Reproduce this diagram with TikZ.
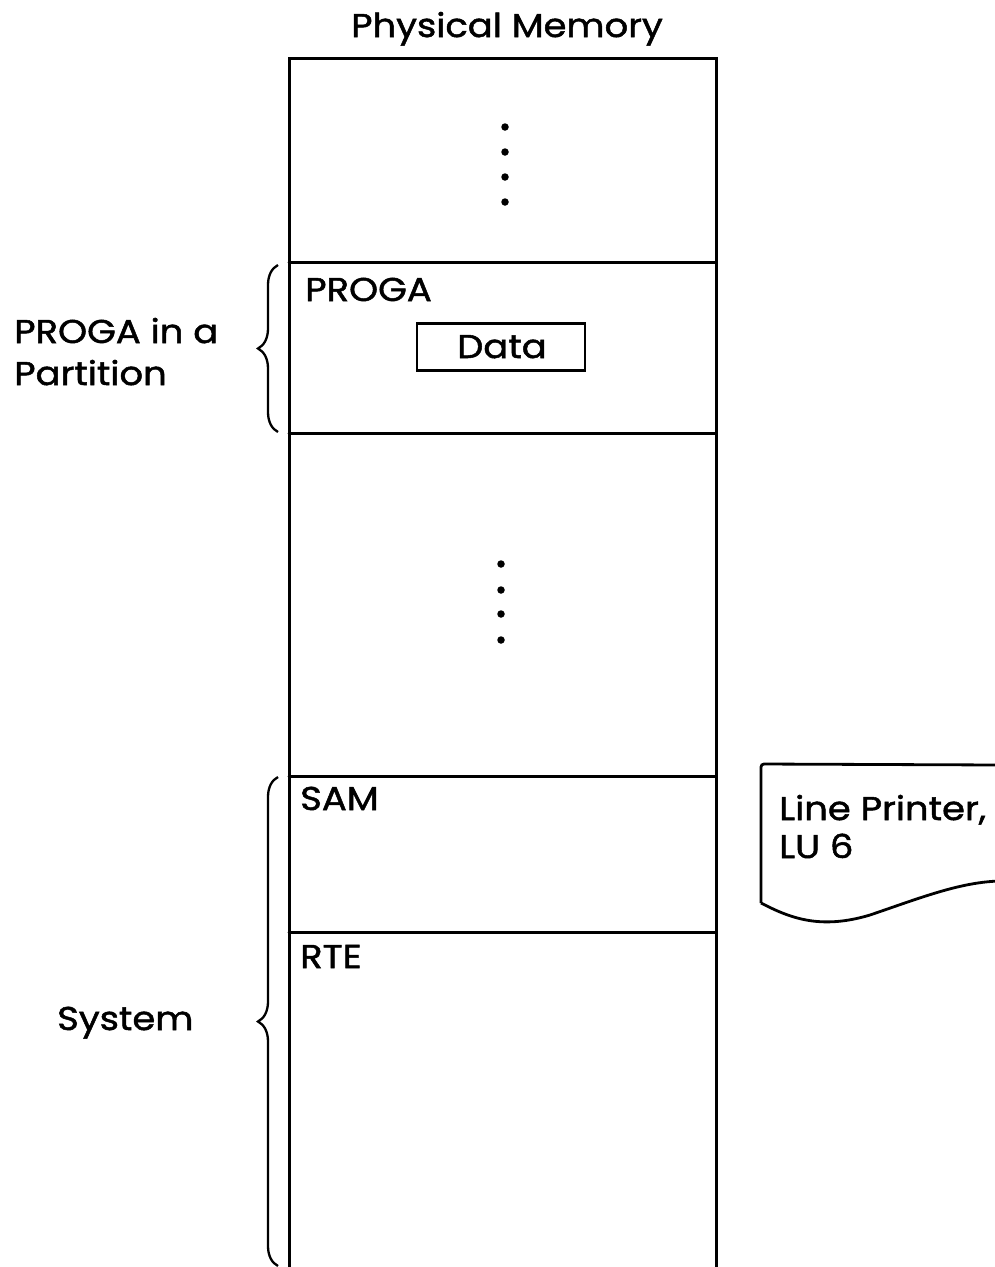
\documentclass[tikz,border=0pt]{standalone}
\usepackage{fontspec}
\setmainfont{Poppins}[FakeStretch=1.12, FakeBold=1.5]
\usetikzlibrary{decorations.pathreplacing}

\begin{document}
\begin{tikzpicture}[x=1pt, y=-1pt,
  wall/.style={line width=3pt, line cap=round},
  label/.style={inner sep=0pt, font=\fontsize{33}{38}\selectfont},
  dot/.style={circle, fill=black, inner sep=0pt, minimum size=7.5pt},
  bracket/.style={line width=2.3pt, decorate,
    decoration={brace, amplitude=20pt, aspect=0.5}}]
  \useasboundingbox (0,0) rectangle (994,1267);

  % title
  \node[label, anchor=base] (title) at (507,37) {Physical Memory};

  % memory column, open at the bottom
  \coordinate (tl) at (289,58);
  \coordinate (tr) at (716,58);
  \coordinate (bl) at (289,1270);
  \coordinate (br) at (716,1270);
  \draw[wall] (bl) -- (tl) -- (tr) -- (br);

  % region boundaries
  \foreach \yy/\nm in {262/a, 433/b, 776/c, 932/d}{
    \coordinate (l\nm) at (289,\yy);
    \coordinate (r\nm) at (716,\yy);
    \draw[wall] (l\nm) -- (r\nm);
  }

  % ellipsis dots
  \foreach \yy [count=\i] in {127,152,177,202}
    \node[dot] (up\i) at (505,\yy) {};
  \foreach \yy [count=\i] in {564,590,614,640}
    \node[dot] (mid\i) at (501,\yy) {};

  % program partition
  \node[label, anchor=base west] (proga) at (305,301) {PROGA};
  \node[draw, line width=2.8pt, minimum width=168pt, minimum height=47pt,
        inner sep=0pt] (databox) at (501,347) {};
  \node[label, anchor=base] (data) at (502,358) {Data};

  % system area
  \node[label, anchor=base west] (sam) at (300,810) {SAM};
  \node[label, anchor=base west] (rte) at (300,968) {RTE};

  % braces and side labels
  \coordinate (pb1) at (278,432);
  \coordinate (pb2) at (278,265);
  \draw[bracket] (pb1) -- (pb2);
  \node[label, anchor=base west] (plabel) at (14,343) {PROGA in a};
  \node[label, anchor=base west] (plabel2) at (14,385) {Partition};

  \coordinate (sb1) at (278,1266);
  \coordinate (sb2) at (278,777);
  \draw[bracket] (sb1) -- (sb2);
  \node[label, anchor=base west] (slabel) at (57,1030) {System};

  % line printer document
  \node[label, anchor=base west] (lp1) at (779,820) {Line Printer,};
  \node[label, anchor=base west] (lp2) at (779,858) {LU 6};
  \draw[line width=2.8pt, rounded corners=3pt]
    (1000,765) -- (761,764) -- (761,903);
  \draw[line width=2.8pt]
    (761,903) .. controls (790,918) and (820,930) .. (870,915)
    .. controls (920,898) and (960,882) .. (1000,881);
\end{tikzpicture}
\end{document}
